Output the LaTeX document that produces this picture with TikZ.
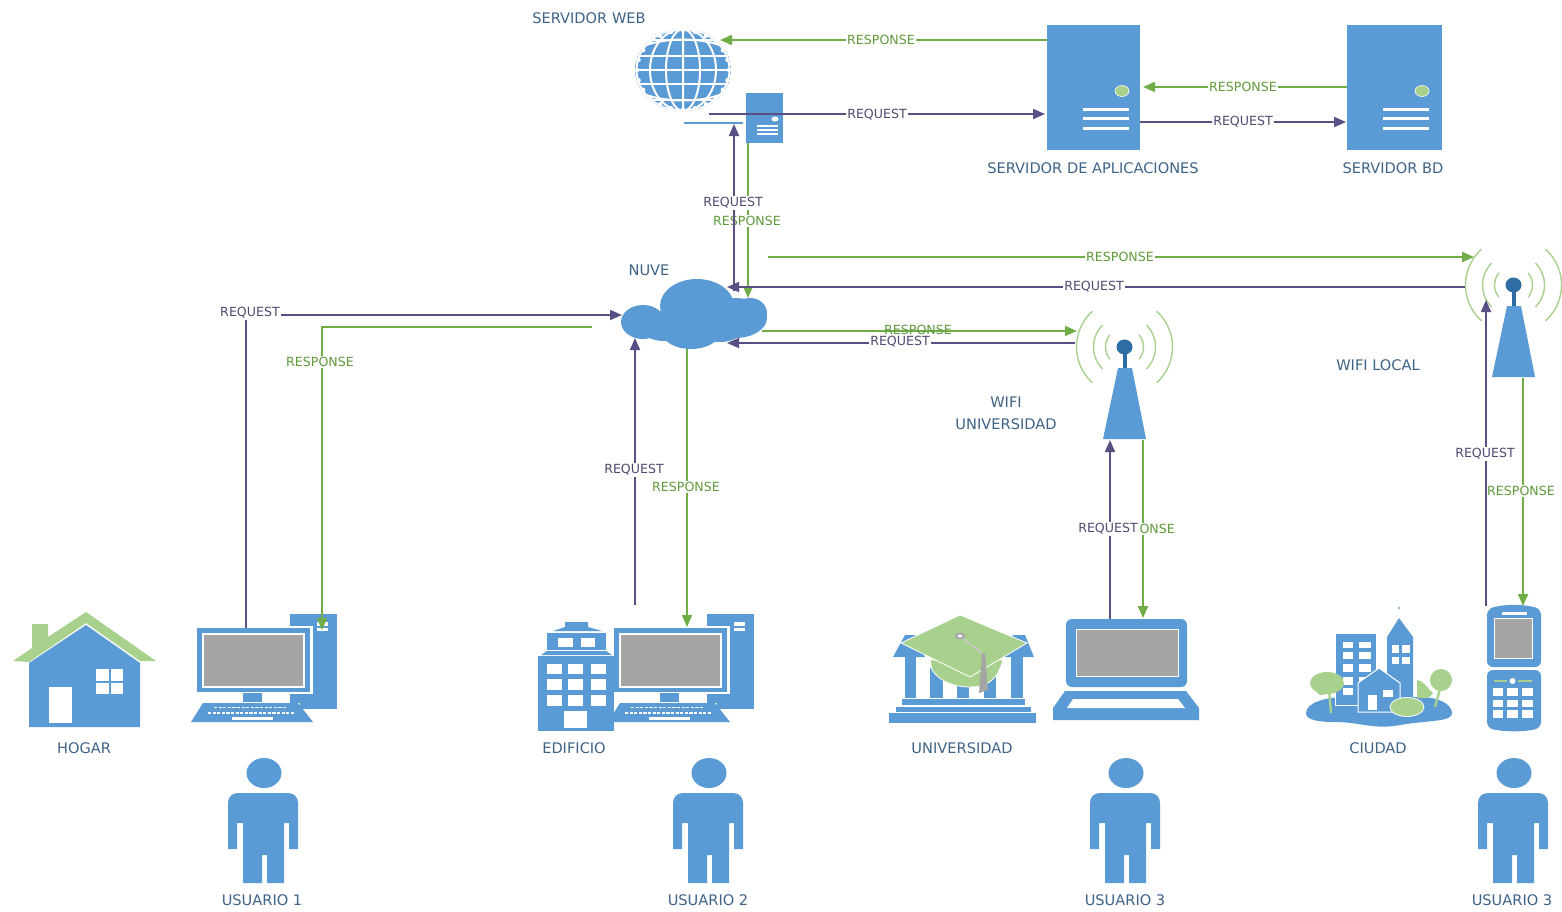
\documentclass[tikz,border=0pt]{standalone}
\usepackage{fontspec}
\setmainfont{DejaVu Sans}
\usetikzlibrary{arrows.meta}
\definecolor{bl}{HTML}{5B9BD5}
\definecolor{gn}{HTML}{70AD47}
\definecolor{lg}{HTML}{A9D18E}
\definecolor{pu}{HTML}{5A4F85}
\definecolor{gy}{HTML}{A5A5A5}
\definecolor{db}{HTML}{2E6DA4}
\definecolor{tx}{HTML}{3F6488}
\definecolor{rt}{HTML}{5F9A3C}
\definecolor{qt}{HTML}{504A72}
\tikzset{
  x=0.5pt,y=-0.5pt,
  ico/.style={fill=bl,draw=none},
  wh/.style={fill=white,draw=none},
  lgf/.style={fill=lg,draw=none},
  req/.style={draw=pu,line width=0.85pt,-{Triangle[length=6pt,width=5pt]}},
  res/.style={draw=gn,line width=0.85pt,-{Triangle[length=6pt,width=5pt]}},
  tit/.style={text=tx,font=\fontsize{7.3}{10}\selectfont,inner sep=0pt,align=center},
  lblq/.style={text=qt,fill=white,font=\fontsize{6.3}{8}\selectfont,inner sep=0.6pt},
  lblr/.style={text=rt,fill=white,font=\fontsize{6.3}{8}\selectfont,inner sep=0.6pt},
  kbd/.style={draw=white,line width=0.9pt,dash pattern=on 1.6pt off 0.7pt},
}
% person, centred on x = 264
\newcommand\Persona[1]{\begin{scope}[shift={(#1,0)}]
 \fill[ico] (264,773) ellipse (17.5 and 15);
 \fill[ico] (228,803) .. controls (228,797) and (232,793) .. (238,793) -- (288,793)
   .. controls (294,793) and (298,797) .. (298,803) -- (298,849) -- (289,849) -- (289,823)
   -- (284,823) -- (284,883) -- (267,883) -- (267,855) -- (262,855) -- (262,883) -- (243,883)
   -- (243,823) -- (237,823) -- (237,849) -- (228,849) -- cycle;
\end{scope}}
% desktop computer, in the position of user 1
\newcommand\Compu[1]{\begin{scope}[shift={(#1,0)}]
 \fill[ico] (290,614) rectangle (337,709);
 \fill[wh] (317,622) rectangle (328,625.5);
 \fill[wh] (317,627.5) rectangle (328,631);
 \fill[wh] (288,626) rectangle (313,694);
 \fill[ico] (197,628) rectangle (310,692);
 \draw[white,line width=0.6pt,fill=gy] (203,634) rectangle (304,687);
 \fill[ico] (243,692.5) rectangle (262,702);
 \fill[wh] (261,703) rectangle (300,707);
 \fill[ico] (203,703) -- (298,703) -- (313,722) -- (191,722) -- cycle;
 \draw[kbd] (214,707.5) -- (287,707.5);
 \draw[kbd] (208,713) -- (295,713);
 \fill[wh] (232,717) rectangle (273,720);
\end{scope}}
% server box
\newcommand\Servidor[4]{% x0, x1, dot x, line x0
 \fill[ico] (#1,25) rectangle (#2,150);
 \fill[lgf,draw=white,line width=0.3pt] (#3,91) ellipse (7 and 5.5);
 \fill[wh] (#4,108) rectangle ++(46,3);
 \fill[wh] (#4,117) rectangle ++(46,3);
 \fill[wh] (#4,127) rectangle ++(46,3);
}
% antenna, in the position of the university one
\newcommand\Torre[2]{\begin{scope}[shift={(#1,#2)}]
 \fill[ico] (1118,368) -- (1132,368) -- (1146,439) -- (1103,439) -- cycle;
 \fill[db] (1122.5,350) rectangle (1127,368);
 \fill[db] (1124.5,347) ellipse (8 and 7.5);
 \foreach \r/\a in {19/40,31/45,48/48}{
  \draw[lg,line width=0.7pt] ({1124.5+\r*cos(\a)},{347-\r*sin(\a)}) arc[start angle=\a,end angle=-\a,radius=\r,x radius=\r,y radius=-\r] ;
  \draw[lg,line width=0.7pt] ({1124.5-\r*cos(\a)},{347-\r*sin(\a)}) arc[start angle=180-\a,end angle=180+\a,radius=\r,x radius=\r,y radius=-\r] ;
 }
\end{scope}}
\begin{document}
\begin{tikzpicture}
\useasboundingbox (0,0) rectangle (1562,911);
\fill[white] (0,0) rectangle (1562,911);

% ---- globe
\begin{scope}
 \clip (683,70) ellipse (48 and 41);
 \fill[bl] (635,29) rectangle (731,111);
 \foreach \r in {0,17,33}{
  \draw[white,line width=1pt] (683,70) ellipse (\r+0.01 and 41);
 }
 \draw[white,line width=1pt] (683,70) ellipse (46.5 and 41);
 \foreach \yy in {-30,-14,0,14,30}{
  \draw[white,line width=1pt] (635,{70+\yy}) -- (731,{70+\yy});
 }
 \draw[white,line width=1pt] (635,50) .. controls (660,36) and (706,36) .. (731,50);
 \draw[white,line width=1pt] (635,90) .. controls (660,104) and (706,104) .. (731,90);
\end{scope}
\foreach \a in {0,15,...,345}{
  \fill[white] ({683+46*cos(\a)},{70+39.5*sin(\a)}) circle (2.2);
}
% ---- small server
\fill[ico] (746,93) rectangle (783,143);
\fill[wh] (775,119) ellipse (3.5 and 2.5);
\fill[wh] (757,125) rectangle (778,127);
\fill[wh] (757,129) rectangle (778,131);
\fill[wh] (757,133) rectangle (778,135);
\coordinate (bl1) at (684,123); \coordinate (bl2) at (743,123);
\draw[bl,line width=0.6pt] (bl1) -- (bl2);
% ---- big servers
\Servidor{1047}{1140}{1122}{1083}
\Servidor{1347}{1442}{1422}{1383}
% ---- cloud
\fill[bl] (643,322) ellipse (22 and 17);
\fill[bl] (664,326) ellipse (24 and 15);
\fill[bl] (697,306) ellipse (37 and 27);
\fill[bl] (735,318) ellipse (32 and 20);
\fill[bl] (691,332) ellipse (29 and 17);
\fill[bl] (720,330) ellipse (22 and 12);
\fill[bl] (750,313) ellipse (17 and 15);
% ---- antennas
\Torre{0}{0}
\Torre{389}{-62}
% ---- house
\fill[lgf] (86,612) -- (156,661) -- (140,661) -- (86,623) -- (29,662) -- (13,661) -- (32,648) -- (32,624) -- (48,624) -- (48,637) -- cycle;
\fill[ico] (29,663) -- (86,625) -- (140,663) -- (140,727) -- (29,727) -- cycle;
\fill[wh] (49,687) rectangle (72,723);
\fill[wh] (96,669) rectangle (123,694);
\fill[ico] (108.5,669) rectangle (110.5,694);
\fill[ico] (96,680.5) rectangle (123,682.5);
% ---- computers
\Compu{0}
% ---- building (drawn before computer 2)
\fill[ico] (538,656) rectangle (614,731);
\fill[ico] (541,655) -- (547,651) -- (606,651) -- (612,655) -- cycle;
\fill[ico] (547,633) rectangle (606,650);
\fill[ico] (553,631) -- (565,627) -- (565,622) -- (588,622) -- (588,627) -- (602,631) -- cycle;
\fill[wh] (558,638) rectangle (573,647);
\fill[wh] (581,638) rectangle (595,647);
\foreach \xa/\xb in {547/562,568/583,591/606}{
 \foreach \ya/\yb in {664/674,679/690,695/706}{
  \fill[wh] (\xa,\ya) rectangle (\xb,\yb);
 }
}
\fill[wh] (564,711) rectangle (587,728);
\Compu{417}
% ---- university
\fill[ico] (889,713) rectangle (1036,723);
\fill[ico] (896,707) rectangle (1031,712);
\fill[ico] (902,699) rectangle (1025,705);
\fill[ico] (905,657) rectangle (916,698);
\fill[ico] (1011,657) rectangle (1023,698);
\fill[ico] (930,668) rectangle (943,698);
\fill[ico] (957,683) rectangle (969,698);
\fill[ico] (984,675) rectangle (996,698);
\fill[ico] (893,657) -- (905,635) -- (915,635) -- (925,657) -- cycle;
\fill[ico] (1034,657) -- (1025,635) -- (1013,635) -- (1005,657) -- cycle;
\fill[lg,draw=white,line width=0.4pt] (930,660) -- (932,670) .. controls (940,682) and (955,687) .. (970,687) .. controls (985,687) and (997,682) .. (1003,660) -- cycle;
\fill[lg,draw=white,line width=0.4pt] (960,615) -- (1027,643) -- (970,677) -- (901,643) -- cycle;
\draw[gy!60!white,line width=0.8pt] (960,636) -- (982,653);
\fill[gy] (960,636) ellipse (5.5 and 3.5);
\fill[white] (960,636) ellipse (2.5 and 1.5);
\fill[gy] (982,653) -- (985,653) -- (988,690) -- (979,693) -- cycle;
% ---- laptop
\fill[ico,rounded corners=3pt] (1066,619) -- (1187,619) -- (1187,687) -- (1066,687) -- cycle;
\draw[white,line width=0.5pt,fill=gy] (1076,629) rectangle (1178,676);
\fill[ico] (1065,691) -- (1186,691) -- (1199,708) -- (1199,720) -- (1053,720) -- (1053,708) -- cycle;
\fill[wh] (1073,699) -- (1178,699) -- (1185,708) -- (1067,708) -- cycle;
% ---- city
\fill[ico] (1306,713) .. controls (1306,703) and (1325,697) .. (1345,697) -- (1420,697)
  .. controls (1440,697) and (1452,705) .. (1452,713) .. controls (1452,722) and (1430,720) .. (1400,725)
  .. controls (1375,730) and (1360,722) .. (1335,722) .. controls (1318,722) and (1306,720) .. (1306,713) -- cycle;
\fill[ico,draw=white,line width=0.3pt] (1335,633) rectangle (1376,705);
\foreach \xa/\xb in {1343/1353,1359/1371}{
 \foreach \ya/\yb in {642/648,652/659,664/672,677/685,688/695}{
  \fill[wh] (\xa,\ya) rectangle (\xb,\yb);
 }
}
\fill[ico] (1387,637) -- (1399,618) -- (1413,637) -- (1413,700) -- (1387,700) -- cycle;
\fill[ico] (1399,608) circle (1.2);
\foreach \xa/\xb in {1392/1399,1402/1410}{
 \foreach \ya/\yb in {645/653,657/664}{
  \fill[wh] (\xa,\ya) rectangle (\xb,\yb);
 }
}
\fill[ico,draw=white,line width=0.5pt] (1358,683) -- (1379,668) -- (1400,683) -- (1400,712) -- (1358,712) -- cycle;
\fill[wh] (1368,695) rectangle (1377,710);
\fill[wh] (1383,690) rectangle (1393,697);
\draw[lg,line width=1.2pt] (1329,690) -- (1331,713);
\fill[lgf] (1327,683) ellipse (17 and 11);
\fill[lgf] (1322,690) ellipse (6 and 5);
\draw[lg,line width=1.2pt] (1441,685) -- (1435,707);
\fill[lgf] (1441,680) ellipse (11 and 11);
\fill[lgf] (1417,680) .. controls (1425,681) and (1428,690) .. (1433,693) .. controls (1430,699) and (1425,698) .. (1417,698) -- cycle;
\fill[lg,draw=white,line width=0.4pt] (1407,707) ellipse (17 and 9.5);
% ---- phone
\fill[ico,rounded corners=3pt] (1487,609) .. controls (1505,604) and (1523,604) .. (1541,609) -- (1541,667) -- (1487,667) -- cycle;
\fill[wh] (1502,612) rectangle (1527,615);
\draw[white,line width=0.5pt,fill=gy] (1494,618) rectangle (1532,658);
\fill[ico,rounded corners=3pt] (1487,670) -- (1541,670) -- (1541,728) .. controls (1523,732) and (1505,732) .. (1487,728) -- cycle;
\draw[lg,line width=0.8pt] (1494,681) -- (1507,681);
\draw[lg,line width=0.8pt] (1518,681) -- (1532,681);
\fill[wh] (1512.5,681) circle (3);
\foreach \xa/\xb in {1493/1503,1507/1518,1522/1533}{
 \foreach \ya/\yb in {688/696,700/707,710/718}{
  \fill[wh] (\xa,\ya) rectangle (\xb,\yb);
 }
}
% ---- people
\Persona{0}
\Persona{445}
\Persona{862}
\Persona{1250}

% ---- titles
\node[tit] (tWeb) at (589,18) {SERVIDOR WEB};
\node[tit] (tApp) at (1093,168) {SERVIDOR DE APLICACIONES};
\node[tit] (tBd) at (1393,168) {SERVIDOR BD};
\node[tit] (tNuve) at (649,270) {NUVE};
\node[tit] (tWifiU) at (1006,413.5) {WIFI\\[1.2pt]UNIVERSIDAD};
\node[tit] (tWifiL) at (1378,365) {WIFI LOCAL};
\node[tit] (tHogar) at (84,748) {HOGAR};
\node[tit] (tEdif) at (574,748) {EDIFICIO};
\node[tit] (tUni) at (962,748) {UNIVERSIDAD};
\node[tit] (tCiu) at (1378,748) {CIUDAD};
\node[tit] (tU1) at (262,900) {USUARIO 1};
\node[tit] (tU2) at (708,900) {USUARIO 2};
\node[tit] (tU3) at (1125,900) {USUARIO 3};
\node[tit] (tU4) at (1512,900) {USUARIO 3};

% ---- connector ends
\coordinate (globeE) at (720,40);
\coordinate (appNW) at (1047,40);
\coordinate (webOut) at (709,114);
\coordinate (appW) at (1045,114);
\coordinate (bdW) at (1347,87);
\coordinate (appE) at (1143,87);
\coordinate (appSE) at (1140,122);
\coordinate (bdSW) at (1346,122);
\coordinate (cloudUp) at (734,291);
\coordinate (webDown) at (734,124);
\coordinate (webS) at (748,143);
\coordinate (cloudTop) at (748,298);
\coordinate (rOut) at (768,257);
\coordinate (wifiLin) at (1474,257);
\coordinate (wifiLout) at (1465,287);
\coordinate (cloudNE) at (727,287);
\coordinate (pc1a) at (246,628);
\coordinate (pc1b) at (246,315);
\coordinate (cloudW) at (622,315);
\coordinate (cloudW2) at (592,327);
\coordinate (pc1c) at (322,327);
\coordinate (pc1d) at (322,630);
\coordinate (pc2a) at (635,605);
\coordinate (cloudS) at (635,338);
\coordinate (cloudS2) at (687,349);
\coordinate (pc2b) at (687,627);
\coordinate (cloudE) at (762,331);
\coordinate (wifiUin) at (1077,331);
\coordinate (wifiUout) at (1075,343);
\coordinate (cloudE2) at (727,343);
\coordinate (lapA) at (1110,619);
\coordinate (wifiUs) at (1110,440);
\coordinate (wifiUs2) at (1143,440);
\coordinate (lapB) at (1143,618);
\coordinate (telA) at (1486,606);
\coordinate (wifiLs) at (1486,300);
\coordinate (wifiLs2) at (1523,378);
\coordinate (telB) at (1523,606);

% ---- responses (below the requests)
\draw[res] (appNW) -- (globeE);
\node[lblr] (r1) at (881,40) {RESPONSE};
\draw[res] (bdW) -- (appE);
\node[lblr] (r2) at (1243,87) {RESPONSE};
\draw[res] (webS) -- (cloudTop);
\node[lblr] (r3) at (747,221) {RESPONSE};
\draw[res] (rOut) -- (wifiLin);
\node[lblr] (r4) at (1120,257) {RESPONSE};
\draw[res] (cloudW2) -- (pc1c) -- (pc1d);
\node[lblr] (r5) at (320,362) {RESPONSE};
\draw[res] (cloudS2) -- (pc2b);
\node[lblr] (r6) at (686,487) {RESPONSE};
\draw[res] (cloudE) -- (wifiUin);
\draw[res] (wifiUs2) -- (lapB);
\node[lblr] (r8) at (1141,529) {RESPONSE};
\draw[res] (wifiLs2) -- (telB);
\node[lblr] (r9) at (1521,491) {RESPONSE};
% ---- requests
\draw[req] (webOut) -- (appW);
\node[lblq] (q1) at (877,115) {REQUEST};
\draw[req] (appSE) -- (bdSW);
\node[lblq] (q2) at (1243,122) {REQUEST};
\draw[req] (cloudUp) -- (webDown);
\node[lblq] (q3) at (733,203) {REQUEST};
\draw[req] (wifiLout) -- (cloudNE);
\node[lblq] (q4) at (1094,287) {REQUEST};
\draw[req] (pc1a) -- (pc1b) -- (cloudW);
\node[lblq] (q5) at (250,313) {REQUEST};
\draw[req] (pc2a) -- (cloudS);
\node[lblq] (q6) at (634,470) {REQUEST};
\draw[req] (wifiUout) -- (cloudE2);
\node[lblq] (q7) at (900,342) {REQUEST};
\node[lblr,fill=none] (r7) at (918,330) {RESPONSE};
\draw[req] (lapA) -- (wifiUs);
\node[lblq] (q8) at (1108,529) {REQUEST};
\draw[req] (telA) -- (wifiLs);
\node[lblq] (q9) at (1485,454) {REQUEST};
\end{tikzpicture}
\end{document}
